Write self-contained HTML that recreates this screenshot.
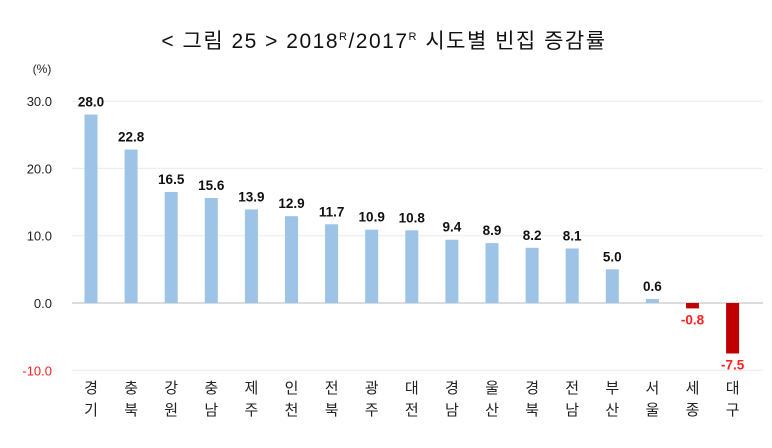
<!DOCTYPE html>
<html><head><meta charset="utf-8"><style>
body{margin:0;background:#fff;}
svg{display:block;font-family:"Liberation Sans","Noto Sans CJK KR",sans-serif;}
</style></head><body>
<svg id="c" width="772" height="448">
<text x="384" y="48" text-anchor="middle" font-size="21" letter-spacing="1.5" fill="#111">&lt; 그림 25 &gt; 2018<tspan font-size="11" dy="-8">R</tspan><tspan dy="8">/2017</tspan><tspan font-size="11" dy="-8">R</tspan><tspan dy="8"> 시도별 빈집 증감률</tspan></text>
<text x="42" y="73" text-anchor="middle" font-size="12" fill="#222">(%)</text>
</svg>
<script>
const categories=[["경","기"],["충","북"],["강","원"],["충","남"],["제","주"],["인","천"],["전","북"],["광","주"],["대","전"],["경","남"],["울","산"],["경","북"],["전","남"],["부","산"],["서","울"],["세","종"],["대","구"]];
const values=[28.0,22.8,16.5,15.6,13.9,12.9,11.7,10.9,10.8,9.4,8.9,8.2,8.1,5.0,0.6,-0.8,-7.5];
const ticks=[30,20,10,0,-10];
const svg=document.getElementById('c');
const NS='http://www.w3.org/2000/svg';
const y=v=>303-v*6.73;
const x=i=>91+i*40.1;
function mk(t,a){const e=document.createElementNS(NS,t);for(const k in a)e.setAttribute(k,a[k]);svg.appendChild(e);return e;}
ticks.forEach(t=>{
  const l=mk('line',{x1:72,x2:763,y1:y(t),y2:y(t),stroke:t===0?'#d0d0d0':'#ececec','stroke-width':t===0?1.5:1});
  
  
  const tx=mk('text',{x:52,y:y(t)+5,'text-anchor':'end','font-size':13,fill:t<0?'#ff2020':'#222'});
  tx.textContent=t.toFixed(1);
  
  
});
values.forEach((v,i)=>{
  const neg=v<0;
  const r=mk('rect',{x:x(i)-6.5,width:13,y:neg?y(0):y(v),height:Math.abs(v)*6.73,fill:neg?'#c00000':'#9dc3e6'});
  
  
  const t=mk('text',{x:x(i),y:neg?y(v)+16:y(v)-8,'text-anchor':'middle','font-size':13.5,'font-weight':'bold',fill:neg?'#ff2020':'#111'});
  t.textContent=v.toFixed(1);
  
  
  categories[i].forEach((c,j)=>{
    const ct=mk('text',{x:x(i),y:393+j*22,'text-anchor':'middle','font-size':15,fill:'#222'});
    ct.textContent=c;
    
    
  });
});
</script>
</body></html>
